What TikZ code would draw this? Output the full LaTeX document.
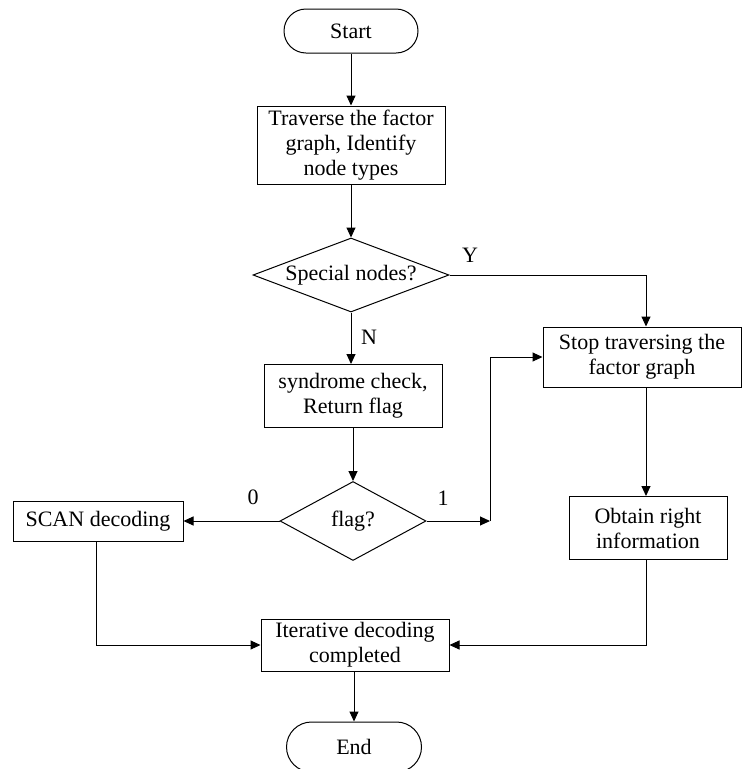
\documentclass[tikz,border=0pt]{standalone}
\usepackage{fontspec}
\setmainfont{Liberation Serif}
\usetikzlibrary{shapes.geometric,arrows.meta}
\begin{document}
\begin{tikzpicture}[x=1pt,y=-1pt,
  every node/.style={font=\fontsize{22}{25}\selectfont, inner sep=0pt},
  proc/.style={draw, line width=1pt, align=center},
  term/.style={draw, line width=1pt, rounded corners=22pt},
  decision/.style={draw, line width=1pt, shape=diamond},
  conn/.style={line width=1pt},
  arr/.style={conn, -{Triangle[length=10pt,width=9pt]}},
]
\useasboundingbox (0,0) rectangle (742,769);

\node[term, minimum width=134pt, minimum height=44pt] (start) at (351,31) {Start};
\node[proc, minimum width=188pt, minimum height=78pt] (trav) at (351,145) {Traverse the factor\\graph, Identify\\node types};
\node[decision, minimum width=196pt, minimum height=74pt, aspect=2.65] (spec) at (351,275) {Special nodes?};
\node[proc, minimum width=178pt, minimum height=63pt] (synd) at (353,396) {syndrome check,\\Return flag};
\node[decision, minimum width=146pt, minimum height=79pt, aspect=1.85] (flag) at (353,521) {flag?};
\node[proc, minimum width=170pt, minimum height=40pt] (scan) at (98,521) {SCAN decoding};
\node[proc, minimum width=198pt, minimum height=60pt] (stop) at (642,357) {Stop traversing the\\factor graph};
\node[proc, minimum width=158pt, minimum height=63pt] (obt) at (648,528) {Obtain right\\information};
\node[proc, minimum width=188pt, minimum height=52pt] (iter) at (355,645) {Iterative decoding\\completed};
\node[term, rounded corners=25pt, minimum width=135pt, minimum height=50pt] (end) at (354,747) {End};

\node (ly) at (470,255) {Y};
\node (ln) at (369,337) {N};
\node (l1) at (443,498) {1};
\node (l0) at (253,497) {0};

\coordinate (yc) at (646,275);
\coordinate (j) at (490,521);
\coordinate (sc) at (96,542);

\draw[arr] (start.south) -- (start.south |- trav.north);
\draw[arr] (trav.south) -- (trav.south |- spec.north);
\draw[arr] (spec.south) -- (spec.south |- synd.north);
\draw[arr] (synd.south -| flag.north) -- (flag.north);
\draw[arr] (spec.east) -- (yc) -- (yc |- stop.north);
\draw[arr] (flag.west) -- (scan.east);
\draw[arr] (flag.east) -- (j);
\draw[arr] (j) |- (stop.west);
\draw[arr] (stop.south -| yc) -- (obt.north -| yc);
\draw[arr] (obt.south -| yc) |- (iter.east);
\draw[arr] (sc) |- (iter.west);
\draw[arr] (iter.south -| end.north) -- (end.north);
\end{tikzpicture}
\end{document}
